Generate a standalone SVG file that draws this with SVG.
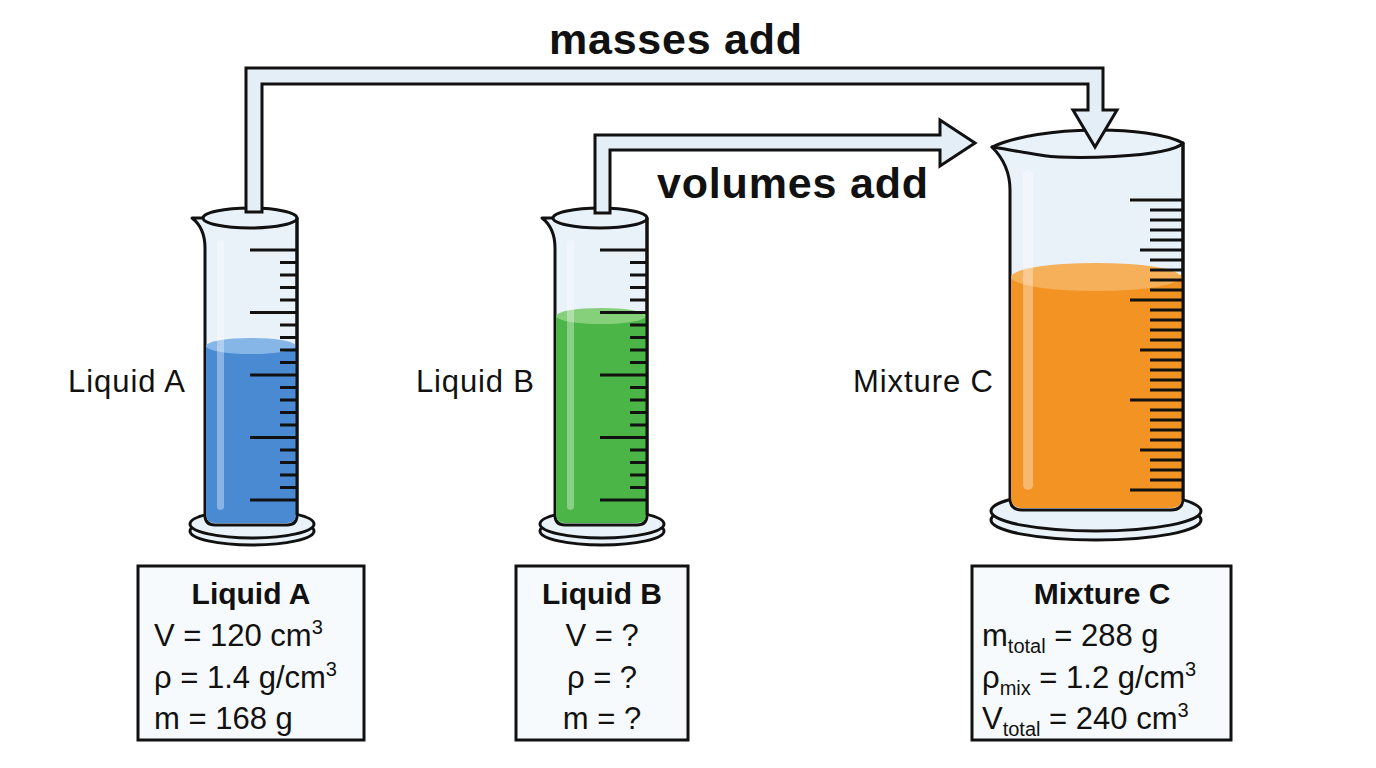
<svg xmlns="http://www.w3.org/2000/svg" width="1376" height="768" viewBox="0 0 1376 768">
<style>
.g{fill:#e9f2f9;stroke:#111;stroke-width:3;stroke-linejoin:round}
.t{stroke:#111;stroke-width:3;fill:none}
.p{fill:#e3eef7;stroke:#111;stroke-width:3;stroke-linejoin:miter}
.box{fill:#f7fafc;stroke:#111;stroke-width:3}
text{font-family:"Liberation Sans",Arial,sans-serif;fill:#111}
.h{font-size:30px;font-weight:bold;text-anchor:middle}
.v{font-size:31px}
.l{font-size:31px}
.big{font-size:43px;font-weight:bold}
.hl{fill:#fff;opacity:.35}
</style>
<rect width="1376" height="768" fill="#fff"/>
<g id="cylA">
<ellipse cx="252" cy="531" rx="62" ry="14" class="g"/>
<ellipse cx="252" cy="524" rx="62" ry="14" class="g"/>
<path class="g" d="M192 218 Q205 228 205 248 L205 515 Q205 525 215 525 L287 525 Q297 525 297 515 L297 218 Z"/>
<path d="M206 345 L296 345 L296 514 Q296 523 287 523 L215 523 Q206 523 206 514 Z" fill="#4a8ad3"/>
<ellipse cx="251" cy="346" rx="45" ry="8" fill="#86b6e8"/>
<rect x="217" y="240" width="7" height="270" rx="3.5" class="hl"/>
<ellipse cx="250" cy="218" rx="47" ry="10" class="g"/>
<path class="t" d="M297 218 V515 M250 250h47M280 262.5h17M280 275h17M280 287.5h17M280 300h17M250 312.5h47M280 325h17M280 337.5h17M280 350h17M280 362.5h17M250 375h47M280 387.5h17M280 400h17M280 412.5h17M280 425h17M250 437.5h47M280 450h17M280 462.5h17M280 475h17M280 487.5h17M250 500h47"/>
<text class="l" x="68" y="392" textLength="117">Liquid A</text>
</g>
<g id="cylB">
<ellipse cx="602" cy="531" rx="62" ry="14" class="g"/>
<ellipse cx="602" cy="524" rx="62" ry="14" class="g"/>
<path class="g" d="M542 218 Q555 228 555 248 L555 515 Q555 525 565 525 L637 525 Q647 525 647 515 L647 218 Z"/>
<path d="M556 315 L646 315 L646 514 Q646 523 637 523 L565 523 Q556 523 556 514 Z" fill="#4cb548"/>
<ellipse cx="601" cy="316" rx="45" ry="8" fill="#86d07c"/>
<rect x="567" y="240" width="7" height="270" rx="3.5" class="hl"/>
<ellipse cx="600" cy="218" rx="47" ry="10" class="g"/>
<path class="t" d="M647 218 V515 M600 250h47M630 262.5h17M630 275h17M630 287.5h17M630 300h17M600 312.5h47M630 325h17M630 337.5h17M630 350h17M630 362.5h17M600 375h47M630 387.5h17M630 400h17M630 412.5h17M630 425h17M600 437.5h47M630 450h17M630 462.5h17M630 475h17M630 487.5h17M600 500h47"/>
<text class="l" x="416" y="392" textLength="118">Liquid B</text>
</g>
<g id="cylC">
<ellipse cx="1096" cy="520" rx="105" ry="20" class="g"/>
<ellipse cx="1096" cy="511" rx="105" ry="20" class="g"/>
<path class="g" d="M992 147 Q1010 165 1010 190 L1010 498 Q1010 510 1022 510 L1171 510 Q1183 510 1183 498 L1183 143 Z"/>
<path d="M1011 275 L1182 275 L1182 497 Q1182 508 1171 508 L1022 508 Q1011 508 1011 497 Z" fill="#f39324"/>
<ellipse cx="1096" cy="277" rx="85" ry="14" fill="#f6b05a"/>
<rect x="1023" y="170" width="10" height="320" rx="5" class="hl"/>
<path class="g" d="M992 147 C1040 125 1150 125 1183 143 C1170 158 1060 160 1040 155 C1020 152 1000 148 992 147 Z"/>
<path class="t" d="M1183 143 V500 M1130 200h53M1150 210h33M1150 220h33M1150 230h33M1150 240h33M1140 250h43M1150 260h33M1150 270h33M1150 280h33M1150 290h33M1130 300h53M1150 310h33M1150 320h33M1150 330h33M1150 340h33M1140 350h43M1150 360h33M1150 370h33M1150 380h33M1150 390h33M1130 400h53M1150 410h33M1150 420h33M1150 430h33M1150 440h33M1140 450h43M1150 460h33M1150 470h33M1150 480h33M1130 490h53"/>
<text class="l" x="853" y="392" textLength="140">Mixture C</text>
</g>
<g id="connectors">
<polygon class="p" points="246,212 246,68 1103,68 1103,110 1117,110 1095,147 1073,110 1088,110 1088,84 262,84 262,212"/>
<polygon class="p" points="595,213 595,135 940,135 940,120 975,143 940,166 940,150 610,150 610,213"/>
<text class="big" x="549" y="54" textLength="253">masses add</text>
<text class="big" x="657" y="198" textLength="271">volumes add</text>
</g>
<g id="boxA">
<rect class="box" x="138" y="566" width="226" height="174"/>
<text class="h" x="251" y="604">Liquid A</text>
<text class="v" x="154" y="646">V = 120 cm<tspan font-size="20" dy="-12">3</tspan></text>
<text class="v" x="154" y="688">ρ = 1.4 g/cm<tspan font-size="20" dy="-12">3</tspan></text>
<text class="v" x="154" y="729">m = 168 g</text>
</g>
<g id="boxB">
<rect class="box" x="516" y="566" width="172" height="174"/>
<text class="h" x="602" y="604">Liquid B</text>
<text class="v" x="602" y="646" text-anchor="middle">V = ?</text>
<text class="v" x="602" y="688" text-anchor="middle">ρ = ?</text>
<text class="v" x="602" y="729" text-anchor="middle">m = ?</text>
</g>
<g id="boxC">
<rect class="box" x="972" y="566" width="259" height="174"/>
<text class="h" x="1102" y="604">Mixture C</text>
<text class="v" x="982" y="646">m<tspan font-size="20" dy="7">total</tspan><tspan dy="-7"> = 288 g</tspan></text>
<text class="v" x="982" y="688">ρ<tspan font-size="20" dy="7">mix</tspan><tspan dy="-7"> = 1.2 g/cm</tspan><tspan font-size="20" dy="-12">3</tspan></text>
<text class="v" x="982" y="729">V<tspan font-size="20" dy="7">total</tspan><tspan dy="-7"> = 240 cm</tspan><tspan font-size="20" dy="-12">3</tspan></text>
</g>
</svg>
